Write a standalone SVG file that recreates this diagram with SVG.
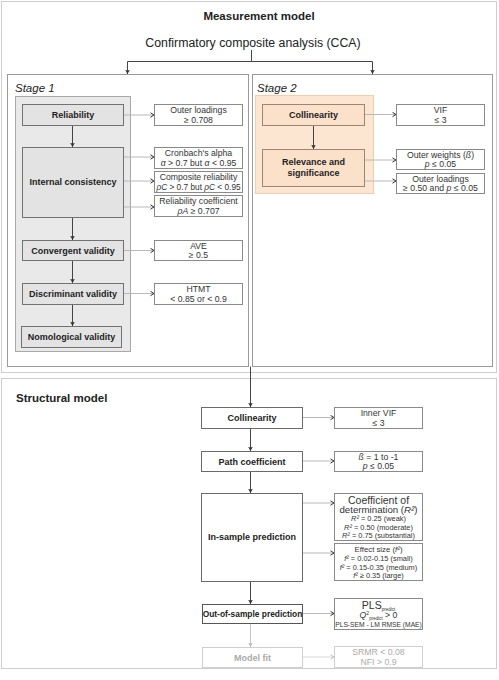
<svg xmlns="http://www.w3.org/2000/svg" width="499" height="680" viewBox="0 0 499 680">
<defs>
<marker id="chev" markerUnits="userSpaceOnUse" markerWidth="6" markerHeight="6" refX="4" refY="3" orient="auto">
<path d="M0.5,0.8 L4,3 L0.5,5.2" fill="none" stroke="#333" stroke-width="1"/>
</marker>
<marker id="chevl" markerUnits="userSpaceOnUse" markerWidth="6" markerHeight="6" refX="4" refY="3" orient="auto">
<path d="M0.5,0.8 L4,3 L0.5,5.2" fill="none" stroke="#bbb" stroke-width="1"/>
</marker>
<marker id="tri" markerUnits="userSpaceOnUse" markerWidth="6" markerHeight="6" refX="4.5" refY="3" orient="auto">
<path d="M0,0.5 L4.5,3 L0,5.5 L1.2,3 Z" fill="#333"/>
</marker>
<marker id="tril" markerUnits="userSpaceOnUse" markerWidth="6" markerHeight="6" refX="4.5" refY="3" orient="auto">
<path d="M0,0.5 L4.5,3 L0,5.5 L1.2,3 Z" fill="#bbb"/>
</marker>
</defs>
<style>
text{font-family:"Liberation Sans",Arial,sans-serif;fill:#222;}
.title{font-size:11.5px;font-weight:bold;}
.stage{font-size:11.5px;font-style:italic;}
.node{font-size:9px;font-weight:bold;text-anchor:middle;}
.crit{font-size:8.7px;text-anchor:middle;fill:#333;}
.small{font-size:7.4px;text-anchor:middle;fill:#333;}
.dotted{fill:none;stroke:#9a9a9a;stroke-width:1;stroke-dasharray:1,1;}
.stagebox{fill:#fff;stroke:#9a9a9a;stroke-width:1;}
.graycont{fill:#e9e9e9;stroke:#a8a8a8;stroke-width:1;}
.graybox{fill:#e3e3e3;stroke:#727272;stroke-width:1;}
.orgcont{fill:#fce5d1;stroke:#f1cdb0;stroke-width:1;}
.orgbox{fill:#fbe0ca;stroke:#9c8574;stroke-width:1;}
.wbox{fill:#fff;stroke:#6a6a6a;stroke-width:1;}
.cbox{fill:#fff;stroke:#8a8a8a;stroke-width:1;}
.lbox{fill:#fff;stroke:#cfcfcf;stroke-width:1;}
.h{fill:none;stroke:#b8b8b8;stroke-width:1;marker-end:url(#chev);}
.hl{fill:none;stroke:#d8d8d8;stroke-width:1;marker-end:url(#chevl);}
.v{fill:none;stroke:#444;stroke-width:1;marker-end:url(#tri);}
.vl{fill:none;stroke:#c4c4c4;stroke-width:1;marker-end:url(#tril);}
.light{fill:#aaa;}
</style>

<g id="frames">
<rect class="dotted" x="1.5" y="1.5" width="495" height="371"/>
<rect class="dotted" x="1.5" y="378.5" width="495" height="290"/>
<text class="title" x="259" y="20" text-anchor="middle">Measurement model</text>
<text x="253" y="47" text-anchor="middle" style="font-size:12.3px">Confirmatory composite analysis (CCA)</text>
<rect class="stagebox" x="7.5" y="74.5" width="241" height="292"/>
<rect class="stagebox" x="252.5" y="74.5" width="240" height="292"/>
<text class="stage" x="15" y="92">Stage 1</text>
<text class="stage" x="257" y="92">Stage 2</text>
<rect class="graycont" x="15.5" y="96.5" width="115" height="255"/>
<rect class="orgcont" x="255.5" y="95.5" width="118" height="98"/>
<text class="title" x="16" y="402">Structural model</text>
</g>

<g id="connectors">
<path class="v" d="M251.5,50 V61.5 H127.5 V74"/>
<path class="v" d="M251.5,61.5 H372.5 V74"/>
<path class="h" d="M123.5,115 H154"/>
<path class="h" d="M123.5,157 H154"/>
<path class="h" d="M123.5,181 H154"/>
<path class="h" d="M123.5,207 H154"/>
<path class="h" d="M123.5,250.5 H154"/>
<path class="h" d="M123.5,293.5 H154"/>
<path class="v" d="M72.5,125.5 V147"/>
<path class="v" d="M72.5,217.5 V240"/>
<path class="v" d="M72.5,260.5 V283"/>
<path class="v" d="M72.5,304.5 V326"/>
<path class="h" d="M364.5,114.5 H396"/>
<path class="h" d="M364.5,160 H396"/>
<path class="h" d="M364.5,181 H396"/>
<path class="v" d="M313.5,125.5 V149"/>
<path class="v" d="M250.5,366.5 V407"/>
<path class="v" d="M250.5,428.5 V451"/>
<path class="v" d="M250.5,471.5 V493"/>
<path class="v" d="M250.5,581.5 V604"/>
<path class="vl" d="M250.5,623.5 V647"/>
<path class="h" d="M302.5,417.5 H334"/>
<path class="h" d="M302.5,461 H334"/>
<path class="h" d="M302.5,503 H334"/>
<path class="h" d="M302.5,553 H334"/>
<path class="h" d="M302.5,613.5 H334"/>
<path class="hl" d="M302.5,657 H334"/>
</g>

<g id="reliability">
<rect class="graybox" x="22.5" y="104.5" width="101" height="21"/>
<text class="node" x="73" y="118">Reliability</text>
</g>
<g id="internal-consistency">
<rect class="graybox" x="22.5" y="147.5" width="101" height="70"/>
<text class="node" x="73" y="185">Internal consistency</text>
</g>
<g id="convergent-validity">
<rect class="graybox" x="22.5" y="240.5" width="101" height="20"/>
<text class="node" x="73" y="253.5">Convergent validity</text>
</g>
<g id="discriminant-validity">
<rect class="graybox" x="22.5" y="283.5" width="101" height="21"/>
<text class="node" x="73" y="297">Discriminant validity</text>
</g>
<g id="nomological-validity">
<rect class="graybox" x="21.5" y="326.5" width="100" height="21"/>
<text class="node" x="71.5" y="340">Nomological validity</text>
</g>

<g id="outer-loadings-1">
<rect class="cbox" x="154.5" y="104.5" width="88" height="21"/>
<text class="crit" x="198.5" y="113">Outer loadings</text>
<text class="crit" x="198.5" y="122.5">≥ 0.708</text>
</g>
<g id="cronbach">
<rect class="cbox" x="154.5" y="147.5" width="88" height="21"/>
<text class="crit" x="198.5" y="156">Cronbach's alpha</text>
<text class="crit" x="198.5" y="165.5"><tspan font-style="italic">α</tspan> &gt; 0.7 but <tspan font-style="italic">α</tspan> &lt; 0.95</text>
</g>
<g id="composite-reliability">
<rect class="cbox" x="154.5" y="171.5" width="88" height="21"/>
<text class="crit" x="198.5" y="180">Composite reliability</text>
<text class="crit" x="198.5" y="189.5" style="font-size:8.3px"><tspan font-style="italic">ρC</tspan> &gt; 0.7 but <tspan font-style="italic">ρC</tspan> &lt; 0.95</text>
</g>
<g id="reliability-coefficient">
<rect class="cbox" x="154.5" y="195.5" width="88" height="21"/>
<text class="crit" x="198.5" y="204">Reliability coefficient</text>
<text class="crit" x="198.5" y="213.5"><tspan font-style="italic">ρA</tspan> ≥ 0.707</text>
</g>
<g id="ave">
<rect class="cbox" x="154.5" y="240.5" width="88" height="20"/>
<text class="crit" x="198.5" y="248.5">AVE</text>
<text class="crit" x="198.5" y="257.5">≥ 0.5</text>
</g>
<g id="htmt">
<rect class="cbox" x="154.5" y="283.5" width="88" height="21"/>
<text class="crit" x="198.5" y="292">HTMT</text>
<text class="crit" x="198.5" y="301.5">&lt; 0.85 or &lt; 0.9</text>
</g>

<g id="collinearity-2">
<rect class="orgbox" x="262.5" y="104.5" width="102" height="21"/>
<text class="node" x="313.5" y="118">Collinearity</text>
</g>
<g id="relevance">
<rect class="orgbox" x="262.5" y="149.5" width="102" height="37"/>
<text class="node" x="313.5" y="164.5">Relevance and</text>
<text class="node" x="313.5" y="175.5">significance</text>
</g>
<g id="vif">
<rect class="cbox" x="396.5" y="104.5" width="88" height="21"/>
<text class="crit" x="440.5" y="113">VIF</text>
<text class="crit" x="440.5" y="122.5">≤ 3</text>
</g>
<g id="outer-weights">
<rect class="cbox" x="396.5" y="149.5" width="88" height="20"/>
<text class="crit" x="440.5" y="157.5">Outer weights (<tspan font-style="italic">ß</tspan>)</text>
<text class="crit" x="440.5" y="166.5"><tspan font-style="italic">p</tspan> ≤ 0.05</text>
</g>
<g id="outer-loadings-2">
<rect class="cbox" x="396.5" y="173.5" width="88" height="20"/>
<text class="crit" x="440.5" y="181.5">Outer loadings</text>
<text class="crit" x="440.5" y="190.5">≥ 0.50 and <tspan font-style="italic">p</tspan> ≤ 0.05</text>
</g>

<g id="collinearity-s">
<rect class="wbox" x="201.5" y="407.5" width="101" height="21"/>
<text class="node" x="252" y="421">Collinearity</text>
</g>
<g id="inner-vif">
<rect class="cbox" x="334.5" y="407.5" width="88" height="21"/>
<text class="crit" x="378.5" y="416">Inner VIF</text>
<text class="crit" x="378.5" y="425.5">≤ 3</text>
</g>
<g id="path-coefficient">
<rect class="wbox" x="201.5" y="451.5" width="101" height="20"/>
<text class="node" x="252" y="464.5">Path coefficient</text>
</g>
<g id="beta">
<rect class="cbox" x="334.5" y="451.5" width="88" height="20"/>
<text class="crit" x="378.5" y="459.5"><tspan font-style="italic">ß</tspan> = 1 to -1</text>
<text class="crit" x="378.5" y="468.5"><tspan font-style="italic">p</tspan> ≤ 0.05</text>
</g>
<g id="in-sample">
<rect class="wbox" x="201.5" y="493.5" width="101" height="88"/>
<text class="node" x="252" y="539.5">In-sample prediction</text>
</g>
<g id="coef-det">
<rect class="cbox" x="334.5" y="493.5" width="88" height="47"/>
<text class="crit" x="378.5" y="503.5" style="font-size:10.5px">Coefficient of</text>
<text class="crit" x="378.5" y="513" style="font-size:9.7px">determination (<tspan font-style="italic">R²</tspan>)</text>
<text class="small" x="378.5" y="521"><tspan font-style="italic">R²</tspan> = 0.25 (weak)</text>
<text class="small" x="378.5" y="529.5"><tspan font-style="italic">R²</tspan> = 0.50 (moderate)</text>
<text class="small" x="378.5" y="538"><tspan font-style="italic">R²</tspan> = 0.75 (substantial)</text>
</g>
<g id="effect-size">
<rect class="cbox" x="334.5" y="543.5" width="88" height="37"/>
<text class="small" x="378.5" y="552" style="font-size:7.8px">Effect size (<tspan font-style="italic">f²</tspan>)</text>
<text class="small" x="378.5" y="561"><tspan font-style="italic">f²</tspan> = 0.02-0.15 (small)</text>
<text class="small" x="378.5" y="569.5"><tspan font-style="italic">f²</tspan> = 0.15-0.35 (medium)</text>
<text class="small" x="378.5" y="578"><tspan font-style="italic">f²</tspan> ≥ 0.35 (large)</text>
</g>
<g id="out-of-sample">
<rect class="wbox" x="202.5" y="604.5" width="100" height="19" style="stroke:#555"/>
<text class="node" x="252.5" y="617" style="font-size:8.4px">Out-of-sample prediction</text>
</g>
<g id="plspredict">
<rect class="cbox" x="334.5" y="598.5" width="88" height="31"/>
<text class="crit" x="378.5" y="608.5" style="font-size:10.5px">PLS<tspan font-size="4.5px" dy="2">predict</tspan></text>
<text class="crit" x="378.5" y="618"><tspan font-style="italic">Q</tspan><tspan font-size="5px" dy="-3">2</tspan><tspan font-size="4.5px" dy="4.5">predict</tspan><tspan dy="-1.5"> &gt; 0</tspan></text>
<text class="small" x="378.5" y="627" style="font-size:6.7px">PLS-SEM - LM RMSE (MAE)</text>
</g>
<g id="model-fit">
<rect class="lbox" x="202.5" y="647.5" width="100" height="20"/>
<text class="node light" x="252.5" y="660.5">Model fit</text>
</g>
<g id="srmr">
<rect class="lbox" x="334.5" y="646.5" width="88" height="21"/>
<text class="crit light" x="378.5" y="655">SRMR &lt; 0.08</text>
<text class="crit light" x="378.5" y="664.5">NFI &gt; 0.9</text>
</g>
</svg>
